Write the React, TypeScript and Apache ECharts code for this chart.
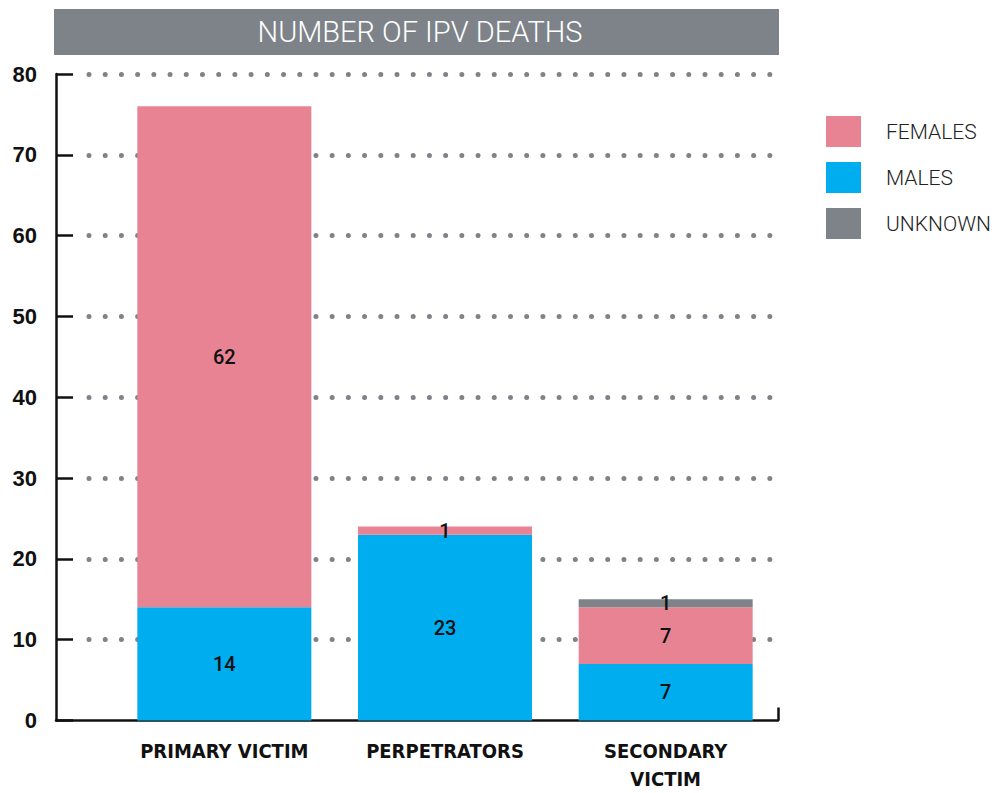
import React, { useEffect, useRef } from 'react';
import * as echarts from 'echarts';

const categories = ['PRIMARY VICTIM', 'PERPETRATORS', 'SECONDARY\nVICTIM'];
const males = [14, 23, 7];
const females = [62, 1, 7];
const unknown = [0, 0, 1];
const yMin = 0;
const yMax = 80;
const yInterval = 10;
const legendNames = ['FEMALES', 'MALES', 'UNKNOWN'];
const titleText = 'NUMBER OF IPV DEATHS';

const COLORS: Record<string, string> = {
  FEMALES: '#e88394',
  MALES: '#00aeef',
  UNKNOWN: '#7e8389',
};

const TOP = 74;
const HEIGHT = 646.5;

export default function App() {
  const ref = useRef<HTMLDivElement>(null);
  useEffect(() => {
    if (!ref.current) return;
    const chart = echarts.init(ref.current, null, { renderer: 'svg' });
    const mk = (name: string, values: number[]) => ({
      name,
      type: 'bar',
      stack: 'total',
      xAxisIndex: 1,
      yAxisIndex: 1,
      barWidth: 174,
      itemStyle: { color: COLORS[name] },
      z: 5,
      label: {
        show: true,
        position: 'inside',
        color: '#111',
        fontSize: 20,
        fontWeight: 500,
        fontFamily: 'Roboto, sans-serif',
        formatter: (p: any) => (p.value ? String(p.value) : ''),
      },
      data: values,
    });
    const hiddenAxis = {
      axisLine: { show: false },
      axisTick: { show: false },
      axisLabel: { show: false },
      splitLine: { show: false },
    };
    chart.setOption({
      animation: false,
      backgroundColor: '#fff',
      grid: [
        { left: 56, top: TOP, width: 722, height: HEIGHT, outerBoundsMode: 'none' },
        { left: 114, top: TOP, width: 662, height: HEIGHT, outerBoundsMode: 'none' },
        { left: 89, top: TOP, width: 690, height: HEIGHT, outerBoundsMode: 'none' },
      ],
      xAxis: [
        {
          type: 'value',
          gridIndex: 0,
          min: 0,
          max: 1,
          axisLine: { show: true, lineStyle: { color: '#111', width: 2.5 } },
          axisTick: {
            show: true,
            inside: true,
            length: 13,
            customValues: [1],
            lineStyle: { color: '#111', width: 2.5 },
          },
          axisLabel: { show: false },
          splitLine: { show: false },
        },
        {
          type: 'category',
          gridIndex: 1,
          data: categories,
          axisLine: { show: false },
          axisTick: { show: false },
          splitLine: { show: false },
          axisLabel: {
            show: true,
            interval: 0,
            color: '#111',
            fontSize: 20,
            fontWeight: 'bold',
            fontFamily: "'DejaVu Sans Condensed', sans-serif",
            lineHeight: 28,
            margin: 16,
          },
        },
        { type: 'value', gridIndex: 2, min: 0, max: 1, ...hiddenAxis },
      ],
      yAxis: [
        {
          type: 'value',
          gridIndex: 0,
          min: yMin,
          max: yMax,
          interval: yInterval,
          axisLine: { show: true, lineStyle: { color: '#111', width: 2.5 } },
          axisTick: { show: true, inside: true, length: 17, lineStyle: { color: '#111', width: 2.5 } },
          axisLabel: {
            color: '#111',
            fontSize: 22,
            fontWeight: 'bold',
            fontFamily: "'Liberation Sans', Arial, sans-serif",
            margin: 19,
          },
          splitLine: { show: false },
        },
        { type: 'value', gridIndex: 1, min: yMin, max: yMax, interval: yInterval, ...hiddenAxis },
        {
          type: 'value',
          gridIndex: 2,
          min: yMin,
          max: yMax,
          interval: yInterval,
          axisLine: { show: false },
          axisTick: { show: false },
          axisLabel: { show: false },
          splitLine: {
            show: true,
            showMinLine: false,
            lineStyle: { color: '#7e8389', width: 5, type: [0.01, 16.2], cap: 'round' },
          },
        },
      ],
      legend: {
        data: legendNames,
        orient: 'vertical',
        left: 826,
        top: 116,
        padding: 0,
        itemWidth: 35,
        itemHeight: 31,
        itemGap: 15,
        icon: 'rect',
        textStyle: {
          fontSize: 21,
          color: '#222',
          fontWeight: 300,
          fontFamily: 'Roboto, sans-serif',
          padding: [0, 0, 0, 20],
        },
      },
      graphic: [
        {
          type: 'rect',
          shape: { x: 54, y: 9, width: 725, height: 46 },
          style: { fill: '#7e8389' },
        },
        {
          type: 'text',
          x: 420,
          y: 32,
          style: {
            text: titleText,
            fill: '#fff',
            fontSize: 29,
            fontWeight: 300,
            fontFamily: 'Roboto, sans-serif',
            textAlign: 'center',
            textVerticalAlign: 'middle',
          },
        },
      ],
      series: [mk('MALES', males), mk('FEMALES', females), mk('UNKNOWN', unknown)],
    });
    return () => chart.dispose();
  }, []);
  return (
    <div
      ref={ref}
      style={{ position: 'fixed', left: 0, top: 0, width: 994, height: 793 }}
    />
  );
}
